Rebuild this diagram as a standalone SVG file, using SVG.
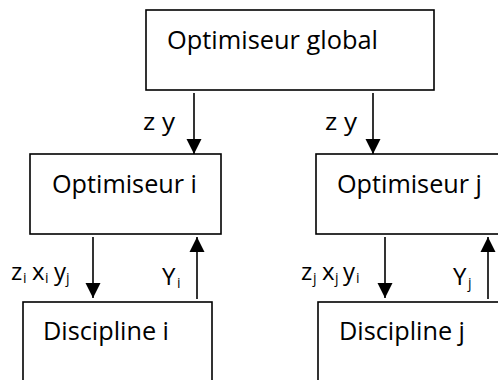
<svg xmlns="http://www.w3.org/2000/svg" width="498" height="380" viewBox="0 0 498 380">
<defs>
<style>
.box{fill:#fff;stroke:#000;stroke-width:1.6}
.t{font-family:"Open Sans","Noto Sans","Liberation Sans",sans-serif;font-size:26px;fill:#000}
.l{font-family:"Open Sans","Noto Sans","Liberation Sans",sans-serif;font-size:24px;fill:#000}
.s{font-size:14px}
.ln{stroke:#000;stroke-width:1.6;fill:none}
</style>
<marker id="ah" markerUnits="userSpaceOnUse" markerWidth="16" markerHeight="16" viewBox="0 0 16 16" refX="15" refY="8" orient="auto">
<path d="M0,0.5 L15,8 L0,15.5 Z" fill="#000"/>
</marker>
</defs>
<rect width="498" height="380" fill="#fff"/>
<g id="global">
<rect class="box" x="146" y="10" width="288" height="80"/>
<text class="t" x="167" y="49" textLength="211" lengthAdjust="spacingAndGlyphs">Optimiseur global</text>
</g>
<g id="opt-i">
<rect class="box" x="30" y="154" width="191" height="80"/>
<text class="t" x="52" y="193" textLength="145" lengthAdjust="spacingAndGlyphs">Optimiseur i</text>
</g>
<g id="opt-j">
<rect class="box" x="316" y="154" width="200" height="80"/>
<text class="t" x="337" y="193" textLength="145" lengthAdjust="spacingAndGlyphs">Optimiseur j</text>
</g>
<g id="disc-i">
<rect class="box" x="23" y="302" width="189" height="100"/>
<text class="t" x="43" y="340" textLength="126" lengthAdjust="spacingAndGlyphs">Discipline i</text>
</g>
<g id="disc-j">
<rect class="box" x="318" y="302" width="200" height="100"/>
<text class="t" x="339" y="340" textLength="126" lengthAdjust="spacingAndGlyphs">Discipline j</text>
</g>
<g id="connectors">
<line class="ln" x1="194" y1="93" x2="194" y2="154" marker-end="url(#ah)"/>
<line class="ln" x1="373" y1="93" x2="373" y2="154" marker-end="url(#ah)"/>
<line class="ln" x1="93" y1="237" x2="93" y2="298" marker-end="url(#ah)"/>
<line class="ln" x1="197" y1="299" x2="197" y2="237" marker-end="url(#ah)"/>
<line class="ln" x1="385" y1="237" x2="385" y2="298" marker-end="url(#ah)"/>
<line class="ln" x1="488" y1="299" x2="488" y2="237" marker-end="url(#ah)"/>
</g>
<g id="labels">
<text class="l" x="143" y="130" textLength="32" lengthAdjust="spacingAndGlyphs">z y</text>
<text class="l" x="325" y="130" textLength="32" lengthAdjust="spacingAndGlyphs">z y</text>
<text class="l" y="280"><tspan x="11">z</tspan><tspan class="s" x="23" y="283">i</tspan><tspan x="32" y="280">x</tspan><tspan class="s" x="45" y="283">i</tspan><tspan x="54" y="280">y</tspan><tspan class="s" x="66" y="283">j</tspan></text>
<text class="l" y="285"><tspan x="162">Y</tspan><tspan class="s" x="177" y="288">i</tspan></text>
<text class="l" y="280"><tspan x="301">z</tspan><tspan class="s" x="313" y="283">j</tspan><tspan x="322" y="280">x</tspan><tspan class="s" x="335" y="283">j</tspan><tspan x="343" y="280">y</tspan><tspan class="s" x="356" y="283">i</tspan></text>
<text class="l" y="285"><tspan x="453">Y</tspan><tspan class="s" x="468" y="288">j</tspan></text>
</g>
</svg>
